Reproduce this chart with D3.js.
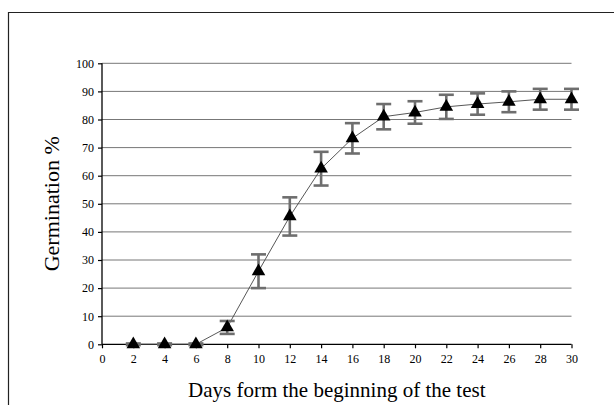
<!DOCTYPE html>
<html>
<head>
<meta charset="utf-8">
<script src="https://cdn.jsdelivr.net/npm/d3@7"></script>
<style>
  body { margin: 0; background: #fff; }
  svg { display: block; }
</style>
</head>
<body>
<div id="chart"></div>
<script>
const days = [2, 4, 6, 8, 10, 12, 14, 16, 18, 20, 22, 24, 26, 28, 30];
const germination = [0, 0, 0, 6, 26, 45.5, 62.5, 73.3, 81, 82.5, 84.5, 85.5, 86.3, 87.2, 87.2];
const errors = [0.3, 0.3, 0.3, 2.3, 6, 6.8, 6, 5.4, 4.5, 4, 4.3, 3.8, 3.7, 3.7, 3.7];
const xTicks = [0, 2, 4, 6, 8, 10, 12, 14, 16, 18, 20, 22, 24, 26, 28, 30];
const yTicks = [0, 10, 20, 30, 40, 50, 60, 70, 80, 90, 100];

const serif = '"Liberation Serif", "Times New Roman", serif';
const W = 615, H = 405;
const svg = d3.select('#chart').append('svg')
  .attr('width', W)
  .attr('height', H);

// outer frame (right/bottom edges run off the picture)
svg.append('path')
  .attr('d', 'M8.5,' + H + ' V12.5 H614')
  .attr('fill', 'none')
  .attr('stroke', '#222')
  .attr('stroke-width', 1.2);

const pLeft = 102, pRight = 571.5, pTop = 63.3, pBottom = 344.3;
const x = d3.scaleLinear().domain([0, 30]).range([pLeft, pRight]);
const y = d3.scaleLinear().domain([0, 100]).range([pBottom, pTop]);

// gridlines
svg.append('g')
  .selectAll('line')
  .data(yTicks.filter(d => d > 0))
  .enter().append('line')
  .attr('x1', pLeft).attr('x2', pRight)
  .attr('y1', d => y(d)).attr('y2', d => y(d))
  .attr('stroke', '#777')
  .attr('stroke-width', 1);

// axes
const yAxis = svg.append('g')
  .attr('transform', 'translate(' + pLeft + ',0)')
  .call(d3.axisLeft(y).tickValues(yTicks).tickSize(4).tickPadding(4));
const xAxis = svg.append('g')
  .attr('transform', 'translate(0,' + pBottom + ')')
  .call(d3.axisBottom(x).tickValues(xTicks).tickSize(4).tickPadding(6));

[yAxis, xAxis].forEach(a => {
  a.attr('font-family', serif).attr('font-size', 12);
  a.select('.domain').attr('stroke', '#000').attr('stroke-width', 1.3);
  a.selectAll('.tick line').attr('stroke', '#000').attr('stroke-width', 1.2);
  a.selectAll('.tick text').attr('fill', '#000').style('font-family', serif);
});
xAxis.select('.domain').attr('d', 'M' + pLeft + ',0H' + pRight);
yAxis.select('.domain').attr('d', 'M0,' + pBottom + 'V' + pTop);

const data = days.map((d, i) => ({ day: d, v: germination[i], e: errors[i] }));

// connecting line
svg.append('path')
  .datum(data)
  .attr('fill', 'none')
  .attr('stroke', '#444')
  .attr('stroke-width', 0.9)
  .attr('d', d3.line().x(d => x(d.day)).y(d => y(d.v)));

// error bars
const eb = svg.append('g').attr('stroke', '#6e6e6e').attr('stroke-width', 2.6);
const cap = 7.5;
data.forEach(d => {
  const cx = x(d.day), y1 = y(d.v + d.e), y0 = y(d.v - d.e);
  eb.append('line').attr('x1', cx).attr('x2', cx).attr('y1', y1).attr('y2', y0);
  eb.append('line').attr('x1', cx - cap).attr('x2', cx + cap).attr('y1', y1).attr('y2', y1);
  eb.append('line').attr('x1', cx - cap).attr('x2', cx + cap).attr('y1', y0).attr('y2', y0);
});

// triangle markers
const tri = d3.symbol().type(d3.symbolTriangle).size(80);
svg.append('g')
  .selectAll('path')
  .data(data)
  .enter().append('path')
  .attr('d', tri)
  .attr('transform', d => 'translate(' + x(d.day) + ',' + y(d.v) + ')')
  .attr('fill', '#000');

// axis titles
svg.append('text')
  .attr('x', (pLeft + pRight) / 2)
  .attr('y', 397)
  .attr('text-anchor', 'middle')
  .style('font-family', serif)
  .attr('font-size', 21)
  .attr('fill', '#000')
  .text('Days form the beginning of the test');

svg.append('text')
  .attr('transform', 'translate(59,' + (pTop + pBottom) / 2 + ') rotate(-90)')
  .attr('text-anchor', 'middle')
  .style('font-family', serif)
  .attr('font-size', 22)
  .attr('fill', '#000')
  .text('Germination %');
</script>
</body>
</html>
